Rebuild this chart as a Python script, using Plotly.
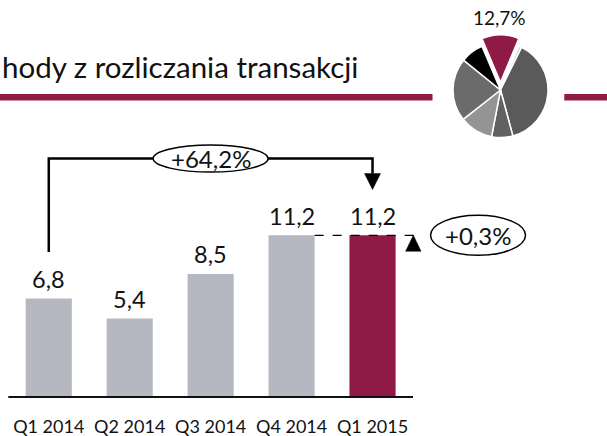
import plotly.graph_objects as go

# ---------------- data ----------------
categories = ["Q1 2014", "Q2 2014", "Q3 2014", "Q4 2014", "Q1 2015"]
values = [6.8, 5.4, 8.5, 11.2, 11.2]
bar_colors = ["#B5B8C1", "#B5B8C1", "#B5B8C1", "#B5B8C1", "#8F1A46"]
change_yoy = "+64,2%"
change_qoq = "+0,3%"
title_text = "hody z rozliczania transakcji"
pie_values = [12.7, 1.0, 38.5, 7.2, 11.4, 21.4, 7.8]
pie_colors = ["#8F1A46", "#CFCFCF", "#5A5A5A", "#616161", "#949494", "#6B6B6B", "#000000"]
pie_label = "12,7%"

# ---------------- geometry helpers ----------------
W, H = 607, 436
MB = 37
PH = H - MB          # plot-area height in px
BASE = 396           # pixel row of value 0
X0PX = 8.3           # pixel of x = -0.5
XS = 80.94           # px per category
YS = 14.35           # px per unit
FONT = "Lato"
INK = "#111111"

def dx(p): return p / XS
def dy(p): return p / YS
def PX(p): return p / W
def PY(p): return (PH - p) / PH

xr = [-0.5 - X0PX / XS, -0.5 + (W - X0PX) / XS]
yr = [-(PH - BASE) / YS, BASE / YS]

fig = go.Figure()
fig.add_trace(go.Bar(
    x=list(range(len(categories))), y=values, width=0.57,
    marker=dict(color=bar_colors, line=dict(width=0)),
    hoverinfo="skip", showlegend=False,
))

# pie
pull_r = 47.5
pull = 0.162
D = 2 * pull_r * (1 + pull)
cx, cy = 500.5, 90
fig.add_trace(go.Pie(
    values=pie_values, sort=False, direction="clockwise", rotation=-23,
    marker=dict(colors=pie_colors, line=dict(color="white", width=1.5)),
    pull=[pull] + [0] * (len(pie_values) - 1), textinfo="none",
    hoverinfo="skip", showlegend=False,
    domain=dict(x=[PX(cx - D / 2), PX(cx + D / 2)], y=[PY(cy + D / 2), PY(cy - D / 2)]),
))

shapes = []
ann = []

# category axis baseline (thin filled band just below value 0)
shapes.append(dict(type="rect", xref="x", yref="paper", x0=-0.5, x1=len(categories) - 0.5,
                   y0=PY(BASE + 2), y1=PY(BASE), fillcolor="#111111",
                   line=dict(width=0), layer="above"))

# value labels
for i, v in enumerate(values):
    ann.append(dict(x=i, y=v, xref="x", yref="y", yshift=19.7, yanchor="middle", xanchor="center",
                    text=f"{v:.1f}".replace(".", ","), showarrow=False,
                    font=dict(family=FONT, size=23.5, color=INK)))

# bracket +64,2%
last = len(values) - 1
b_y = max(values) + dy(76.7)
y_start = values[0] + dy(46.3)
tip_y = values[last] + dy(45.7)
head_base = tip_y + dy(16)
shapes.append(dict(type="path", xref="x", yref="y",
                   path=f"M 0,{y_start} L 0,{b_y} L {last},{b_y} L {last},{head_base}",
                   line=dict(color="#000000", width=2.5)))
hw = dx(8)
shapes.append(dict(type="path", xref="x", yref="y",
                   path=f"M {last-hw},{head_base} L {last+hw},{head_base} L {last},{tip_y} Z",
                   fillcolor="#000000", line=dict(color="#000000", width=0.5)))
shapes.append(dict(type="circle", xref="x", yref="y",
                   x0=2 - dx(57.5), x1=2 + dx(57.5), y0=b_y - dy(13.5), y1=b_y + dy(13.5),
                   fillcolor="white", line=dict(color="#000000", width=1.5)))
ann.append(dict(x=2, y=b_y, xref="x", yref="y", text=change_yoy, showarrow=False,
                xanchor="center", font=dict(family=FONT, size=24, color=INK)))

# dashed line Q4 -> Q1 2015
shapes.append(dict(type="line", xref="x", yref="y",
                   x0=3 + 0.285, x1=last + 0.285 + dx(22.5), y0=values[3], y1=values[3],
                   line=dict(color="#000000", width=1.2, dash="dash")))
tx = last + dx(40.8)
shapes.append(dict(type="path", xref="x", yref="y",
                   path=f"M {tx-dx(7.7)},{values[last]-dy(16)} L {tx+dx(7.7)},{values[last]-dy(16)} L {tx},{values[last]} Z",
                   fillcolor="#000000", line=dict(color="#000000", width=0.5)))
ex = last + dx(105.5)
shapes.append(dict(type="circle", xref="x", yref="y",
                   x0=ex - dx(47.5), x1=ex + dx(47.5), y0=values[last] - dy(20), y1=values[last] + dy(20),
                   fillcolor="white", line=dict(color="#000000", width=1.5)))
ann.append(dict(x=ex, y=values[last], xref="x", yref="y", text=change_qoq, showarrow=False,
                xanchor="center", font=dict(family=FONT, size=24, color=INK)))

# title and header rules
ann.append(dict(x=PX(0), y=PY(66), xref="paper", yref="paper", xanchor="left", yanchor="middle",
                text=title_text, showarrow=False, font=dict(family=FONT, size=29.5, color=INK)))
shapes.append(dict(type="rect", xref="paper", yref="paper", x0=PX(0), x1=PX(432.5),
                   y0=PY(100.5), y1=PY(94), fillcolor="#8F1A46", line=dict(width=0)))
shapes.append(dict(type="rect", xref="paper", yref="paper", x0=PX(564.3), x1=PX(W),
                   y0=PY(100.5), y1=PY(94), fillcolor="#8F1A46", line=dict(width=0)))
ann.append(dict(x=PX(499), y=PY(17.5), xref="paper", yref="paper", text=pie_label,
                showarrow=False, xanchor="center", yanchor="middle",
                font=dict(family=FONT, size=19, color=INK)))

fig.update_layout(
    width=W, height=H, margin=dict(l=0, r=0, t=0, b=MB, autoexpand=False),
    paper_bgcolor="white", plot_bgcolor="white",
    shapes=shapes, annotations=ann, showlegend=False,
    xaxis=dict(range=xr, tickvals=list(range(len(categories))), ticktext=categories,
               showgrid=False, zeroline=False, showline=False, ticks="",
               ticklabelstandoff=15, automargin=False,
               tickfont=dict(family=FONT, size=18, color=INK), fixedrange=True),
    yaxis=dict(range=yr, visible=False, fixedrange=True),
)
fig.write_html("out.html", config={"displayModeBar": False},
               post_script="document.body.style.margin='0px';document.body.style.padding='0px';")
